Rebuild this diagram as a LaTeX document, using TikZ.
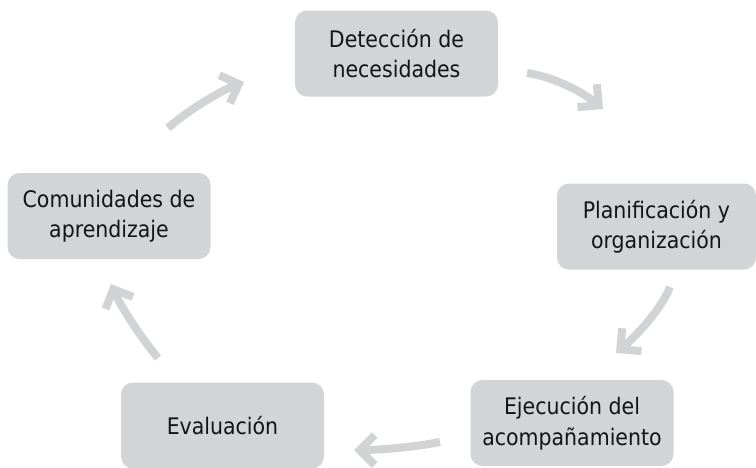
\documentclass[tikz,border=0pt]{standalone}
\usepackage{fontspec}
\setmainfont{DejaVu Sans Condensed}
\usetikzlibrary{arrows.meta}
\definecolor{boxgray}{RGB}{211,212,214}
\definecolor{arrgray}{RGB}{209,211,212}
\definecolor{txt}{RGB}{20,20,20}
\tikzset{
  stagebox/.style={rectangle, rounded corners=12pt, fill=boxgray, draw=none,
    minimum width=203pt, minimum height=86pt, align=center, text=txt,
    font=\fontsize{22.8}{30.5}\selectfont, inner sep=0pt},
  cyclearrow/.style={draw=arrgray, line width=8pt, line cap=butt,
    -{Straight Barb[length=15pt, width=30pt]}}
}
\begin{document}
\begin{tikzpicture}[x=1pt, y=-1pt]
\useasboundingbox (0,0) rectangle (756,467);
\node[stagebox] (det) at (396.5,53.5) {Detección de\\necesidades};
\node[stagebox, minimum width=199pt] (plan) at (656.5,226.5) {Planificación y\\organización};
\node[stagebox] (eje) at (572,423) {Ejecución del\\acompañamiento};
\node[stagebox] (eva) at (222.5,425.5) {Evaluación};
\node[stagebox] (com) at (109,216) {Comunidades de\\aprendizaje};
% arrow end points
\coordinate (a1s) at (527,73);  \coordinate (a1e) at (603,109);
\coordinate (a2s) at (670,287); \coordinate (a2e) at (616,353);
\coordinate (a3s) at (440,442); \coordinate (a3e) at (354,450);
\coordinate (a4s) at (158,358); \coordinate (a4e) at (111,284);
\coordinate (a5s) at (168,128); \coordinate (a5e) at (244,82);
\draw[cyclearrow] (a1s) .. controls (555,77) and (584,93) .. (a1e);
\draw[cyclearrow] (a2s) .. controls (661,310) and (635,337) .. (a2e);
\draw[cyclearrow] (a3s) .. controls (415,447) and (380,450) .. (a3e);
\draw[cyclearrow] (a4s) .. controls (142,339) and (121,307) .. (a4e);
\draw[cyclearrow] (a5s) .. controls (187,111) and (220,91) .. (a5e);
\end{tikzpicture}
\end{document}
